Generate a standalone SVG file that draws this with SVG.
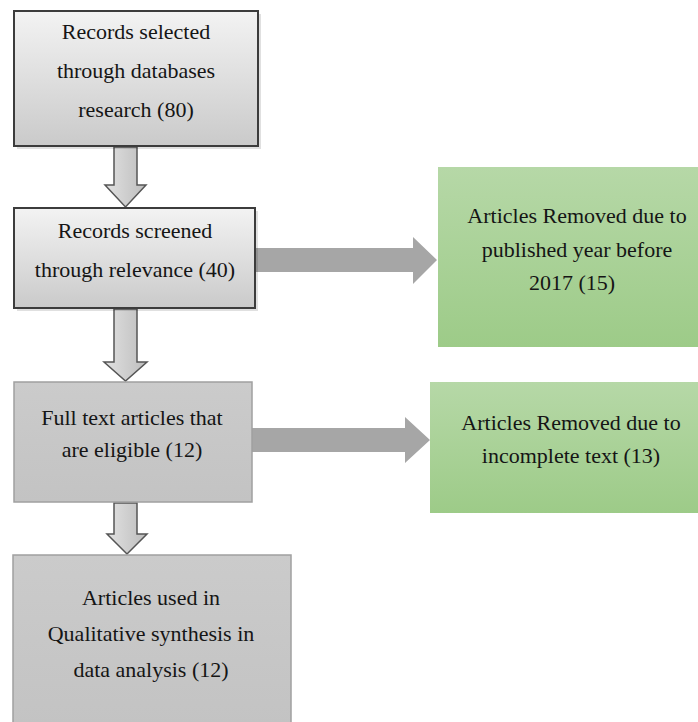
<svg xmlns="http://www.w3.org/2000/svg" width="698" height="722" viewBox="0 0 698 722">
<defs>
<linearGradient id="gGray" x1="0" y1="0" x2="0" y2="1">
<stop offset="0" stop-color="#f3f3f3"/>
<stop offset="1" stop-color="#cacaca"/>
</linearGradient>
<linearGradient id="gFlat" x1="0" y1="0" x2="0" y2="1">
<stop offset="0" stop-color="#cbcbcb"/>
<stop offset="1" stop-color="#c3c3c3"/>
</linearGradient>
<linearGradient id="gGreen" x1="0" y1="0" x2="0" y2="1">
<stop offset="0" stop-color="#b6d8a7"/>
<stop offset="1" stop-color="#9dcb88"/>
</linearGradient>
<linearGradient id="gArrow" x1="0" y1="0" x2="1" y2="0">
<stop offset="0" stop-color="#e2e2e2"/>
<stop offset="0.5" stop-color="#cfcfcf"/>
<stop offset="1" stop-color="#bdbdbd"/>
</linearGradient>
</defs>
<style>
text{font-family:'Liberation Serif','Times New Roman',serif;font-size:22px;fill:#151515;text-anchor:middle}
.b1{fill:url(#gGray);stroke:#3c3c3c;stroke-width:2}
.b2{fill:url(#gFlat);stroke:#a0a0a0;stroke-width:1.5}
.g{fill:url(#gGreen)}
.va{fill:url(#gArrow);stroke:#555;stroke-width:1.5;stroke-linejoin:miter}
.ha{fill:#a6a6a6}
.sh{fill:#000;opacity:0.12}
</style>
<rect width="698" height="722" fill="#fff"/>
<g id="connectors">
<path class="va" d="M114,147 L137,147 L137,185 L146,185 L125.5,207 L105,185 L114,185 Z"/>
<path class="va" d="M114,309 L137,309 L137,362 L147,362 L125.5,381 L104,362 L114,362 Z"/>
<path class="va" d="M114,503 L137,503 L137,534 L147,534 L127,554 L107,534 L114,534 Z"/>
<path class="ha" d="M256,248 L413,248 L413,237 L437,260 L413,284 L413,272 L256,272 Z"/>
<path class="ha" d="M252,428 L405,428 L405,417 L430,440 L405,463 L405,452 L252,452 Z"/>
</g>
<g id="n1">
<rect class="sh" x="17" y="14" width="244" height="135"/>
<rect class="b1" x="14" y="11" width="244" height="135"/>
<text x="136" y="39">Records selected</text>
<text x="136" y="78">through databases</text>
<text x="136" y="117">research (80)</text>
</g>
<g id="n2">
<rect class="sh" x="17" y="211" width="241" height="100"/>
<rect class="b1" x="14" y="208" width="241" height="100"/>
<text x="135" y="238">Records screened</text>
<text x="135" y="277">through relevance (40)</text>
</g>
<g id="n3">
<rect class="b2" x="14" y="382" width="238" height="120"/>
<text x="132" y="425">Full text articles that</text>
<text x="132" y="457">are eligible (12)</text>
</g>
<g id="n4">
<rect class="b2" x="13" y="555" width="278" height="170"/>
<text x="151" y="605">Articles used in</text>
<text x="151" y="641">Qualitative synthesis in</text>
<text x="151" y="677">data analysis (12)</text>
</g>
<g id="n5">
<rect class="g" x="438" y="167" width="270" height="180"/>
<text x="577" y="223">Articles Removed due to</text>
<text x="577" y="257">published year before</text>
<text x="572" y="290">2017 (15)</text>
</g>
<g id="n6">
<rect class="g" x="430" y="382" width="278" height="131"/>
<text x="571" y="430">Articles Removed due to</text>
<text x="571" y="463">incomplete text (13)</text>
</g>
</svg>
